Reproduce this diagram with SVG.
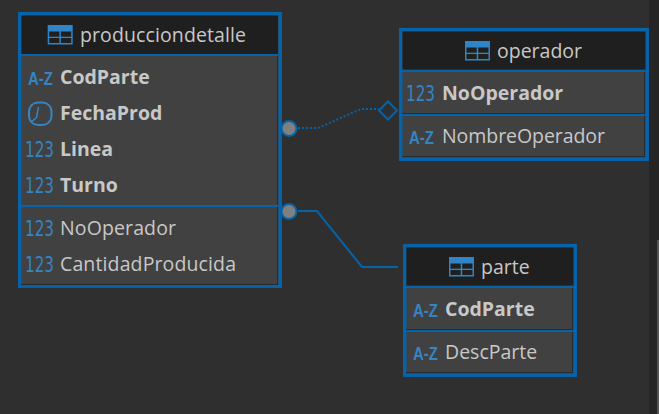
<svg xmlns="http://www.w3.org/2000/svg" width="659" height="414" viewBox="0 0 659 414">
<style>
.frame{fill:#414141;stroke:#0563a9;stroke-width:3.5}
.head{fill:#1f1f1f}
.sep{stroke:#0563a9;stroke-width:2;fill:none}
.dark{stroke:#2a2a2a;stroke-width:1;fill:none}
text{font-family:"Open Sans","Noto Sans","Liberation Sans",sans-serif;font-size:19.5px;fill:#c8c8c8}
.b{font-weight:700}
.az{fill:#3584c4;font-family:"Liberation Sans",sans-serif;font-size:18px;font-weight:700}
.n{fill:#3584c4;font-family:"DejaVu Sans",sans-serif;font-size:21px}
.cn{stroke:#0563a9;stroke-width:2;fill:none}
.pt{fill:#808080;stroke:#0563a9;stroke-width:2}
</style>
<defs>
<g id="tbl"><rect x="0" y="0" width="25" height="19.500" fill="#2f85c8"/><rect x="1.500" y="6.500" width="10.200" height="5.200" fill="#1f1f1f"/><rect x="13.200" y="6.500" width="10.300" height="5.200" fill="#1f1f1f"/><rect x="1.500" y="13" width="10.200" height="5" fill="#1f1f1f"/><rect x="13.200" y="13" width="10.300" height="5" fill="#1f1f1f"/></g>
</defs>
<rect width="659" height="414" fill="#2f2f2f"/>
<rect x="649" y="0" width="10" height="414" fill="#252525"/>
<rect x="657" y="240" width="2" height="174" fill="#555"/>
<g id="connectors">
<path class="cn" stroke-dasharray="2 2" d="M298 128H318L361 109H379"/>
<path class="cn" d="M298 211H317L362 267H398"/>
</g>
<g id="producciondetalle">
<rect class="frame" x="19.700" y="13.700" width="260.500" height="272.500"/>
<rect class="head" x="21.500" y="15.500" width="256.500" height="39"/>
<path class="sep" d="M21 55H278M21 206H278"/>
<path class="dark" d="M277.500 56V205M277.500 207V285M21 284.500H278"/>
<use href="#tbl" x="47.700" y="25"/>
<text x="80" y="42" textLength="166">producciondetalle</text>
<text class="az" transform="translate(28 85) scale(.83 1)">A-Z</text>
<rect x="29" y="102.500" width="22.500" height="22.500" rx="9" fill="none" stroke="#3584c4" stroke-width="2"/><path d="M38.500 107L36.500 117.500L31 122" fill="none" stroke="#3584c4" stroke-width="1.500"/>
<text class="n" transform="translate(25 156.500) scale(.725 1)">123</text>
<text class="n" transform="translate(25 192.500) scale(.725 1)">123</text>
<text class="n" transform="translate(25 235.500) scale(.725 1)">123</text>
<text class="n" transform="translate(25 271.500) scale(.725 1)">123</text>
<text class="b" x="60" y="84">CodParte</text>
<text class="b" x="60" y="120">FechaProd</text>
<text class="b" x="60" y="156">Linea</text>
<text class="b" x="60" y="192">Turno</text>
<text x="60" y="235" textLength="116">NoOperador</text>
<text x="60" y="271" textLength="176">CantidadProducida</text>
</g>
<g id="operador">
<rect class="frame" x="400.700" y="29.700" width="246.500" height="129.500"/>
<rect class="head" x="402.500" y="31.500" width="243" height="38"/>
<path class="sep" d="M402 71H645M402 115H645"/>
<path class="dark" d="M402 113.500H645M644.500 72V113M644.500 116V157M402 156.500H645"/>
<use href="#tbl" x="465" y="41"/>
<text x="497" y="58">operador</text>
<text class="n" transform="translate(406 100.500) scale(.725 1)">123</text>
<text class="az" transform="translate(409 144) scale(.83 1)">A-Z</text>
<text class="b" x="442" y="100">NoOperador</text>
<text x="442" y="143" textLength="163">NombreOperador</text>
</g>
<g id="parte">
<rect class="frame" x="404.700" y="245.700" width="170.500" height="129.500"/>
<rect class="head" x="406.500" y="247.500" width="167" height="38"/>
<path class="sep" d="M406 287H573M406 331H573"/>
<path class="dark" d="M406 329.500H573M572.500 288V329M572.500 332V373M406 372.500H573"/>
<use href="#tbl" x="449" y="257"/>
<text x="481" y="274">parte</text>
<text class="az" transform="translate(413 317) scale(.83 1)">A-Z</text>
<text class="az" transform="translate(413 360) scale(.83 1)">A-Z</text>
<text class="b" x="445" y="316">CodParte</text>
<text x="445" y="359">DescParte</text>
</g>
<g id="ends">
<circle class="pt" cx="289" cy="128.500" r="7.500"/>
<circle class="pt" cx="289" cy="211.500" r="7.500"/>
<path d="M388 101.500L397 110.500L388 119.500L379 110.500Z" fill="none" stroke="#0563a9" stroke-width="2"/>
</g>
</svg>
